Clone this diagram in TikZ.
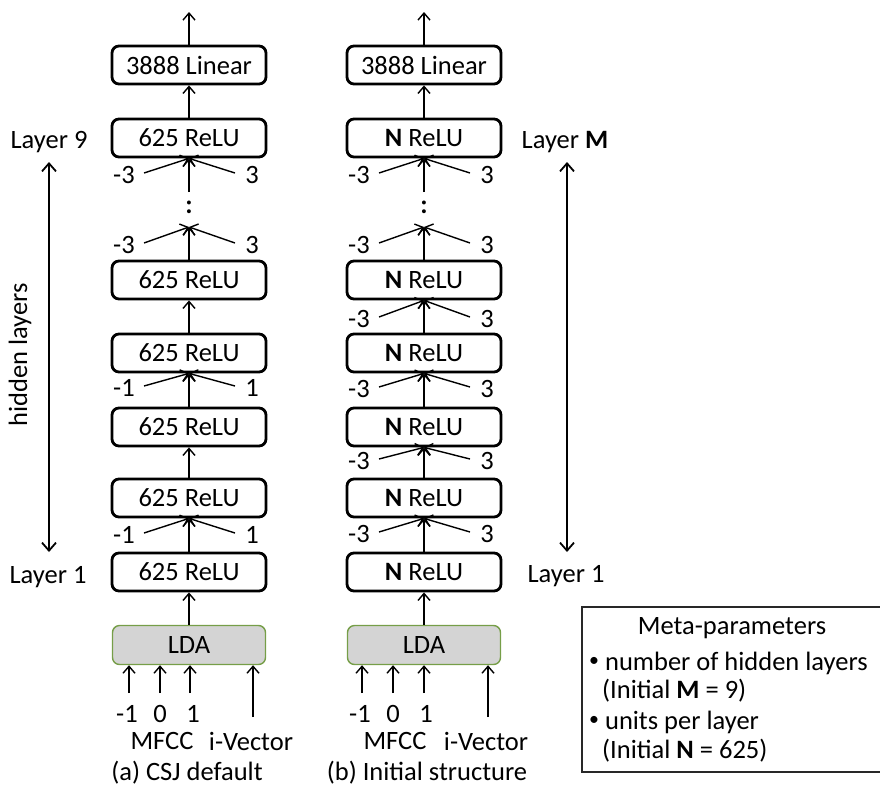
\documentclass[tikz,border=0pt]{standalone}
\usepackage{fontspec}
\setmainfont{Carlito}
\usetikzlibrary{arrows.meta}

\definecolor{ldafill}{RGB}{212,212,212}
\definecolor{ldaedge}{RGB}{118,158,72}
\definecolor{inkgray}{RGB}{40,40,40}

% small list bullet
\newcommand{\smallbullet}{\raisebox{0.12em}{\scalebox{0.75}{\textbullet}}}

% three-way fan of context arrows: two slanted lines plus the (separately drawn) vertical
% #1 name prefix, #2 target, #3 column x, #4 label y, #5 left label, #6 right label
\newcommand{\ctxfan}[6]{%
  \node[lbl] (#1l) at (#3-65,#4) {#5};
  \node[lbl] (#1r) at (#3+63,#4) {#6};
  \coordinate (#1a) at (#3-45,#4-2);
  \coordinate (#1b) at (#3+46,#4-2);
  \draw[conn] (#1a) -- (#2);
  \draw[conn] (#1b) -- (#2);
}

\begin{document}
\begin{tikzpicture}[x=1pt,y=-1pt,
  every node/.style={font=\fontsize{26.5}{31}\selectfont, text=black},
  layerbox/.style={draw=black, line width=2.8pt, rounded corners=7pt,
    minimum width=154pt, minimum height=38pt, inner sep=0pt},
  ldabox/.style={draw=ldaedge, fill=ldafill, line width=1.4pt, rounded corners=7pt,
    minimum width=153pt, minimum height=39pt, inner sep=0pt},
  conn/.style={line width=1.4pt, draw=black, -{Straight Barb[length=7pt,width=12pt,line width=1.4pt]}},
  span/.style={line width=1.8pt, draw=black,
    {Straight Barb[length=8pt,width=14pt,line width=1.8pt]}-{Straight Barb[length=8pt,width=14pt,line width=1.8pt]}},
  lbl/.style={inner sep=0pt},
  metabox/.style={draw=inkgray, line width=1.2pt, inner sep=0pt}
]
\useasboundingbox (0,0) rectangle (880,787);

% ---------------- (a) CSJ default ----------------
\coordinate (a-out) at (189,12);
\node[layerbox] (a-lin) at (189,65) {3888 Linear};
\node[layerbox] (a-h9) at (189,138) {625 ReLU};
\coordinate (a-top) at (189,192);
\node[lbl] (a-dots) at (189,207) {\textbf{:}};
\coordinate (a-tip) at (189,227);
\node[layerbox] (a-h5) at (189,280) {625 ReLU};
\node[layerbox] (a-h4) at (189,353) {625 ReLU};
\node[layerbox] (a-h3) at (189,427) {625 ReLU};
\node[layerbox] (a-h2) at (189,498) {625 ReLU};
\node[layerbox] (a-h1) at (189,572) {625 ReLU};
\node[ldabox] (a-lda) at (189,645) {LDA};

\draw[conn] (a-lin) -- (a-out);
\draw[conn] (a-h9) -- (a-lin);
\draw[conn] (a-top) -- (a-h9.south);
\ctxfan{a-f9}{a-h9.south}{189}{175}{-3}{3}
\draw[conn] (a-h5) -- (a-tip);
\ctxfan{a-f5}{a-tip}{189}{245}{-3}{3}
\draw[conn] (a-h4) -- (a-h5);
\draw[conn] (a-h3) -- (a-h4);
\ctxfan{a-f3}{a-h4.south}{189}{388}{-1}{1}
\draw[conn] (a-h2) -- (a-h3);
\draw[conn] (a-h1) -- (a-h2);
\ctxfan{a-f1}{a-h2.south}{189}{535}{-1}{1}
\draw[conn] (a-lda) -- (a-h1);

\coordinate (a-in1) at (129,693);
\coordinate (a-in2) at (160,693);
\coordinate (a-in3) at (190,693);
\coordinate (a-iv) at (253,717);
\foreach \p in {a-in1,a-in2,a-in3,a-iv}
  \draw[conn] (\p) -- (\p |- a-lda.south);
\node[lbl] (a-m1) at (127,714) {-1};
\node[lbl] (a-m0) at (160,714) {0};
\node[lbl] (a-p1) at (193,714) {1};
\node[lbl] (a-mfcc) at (162,741) {MFCC};
\node[lbl] (a-ivec) at (251,741) {i-Vector};
\node[lbl] (a-cap) at (187,773) {(a) CSJ default};

% ---------------- (b) Initial structure ----------------
\coordinate (b-out) at (424,12);
\node[layerbox] (b-lin) at (424,65) {3888 Linear};
\node[layerbox] (b-hM) at (424,138) {\textbf{N} ReLU};
\coordinate (b-top) at (424,192);
\node[lbl] (b-dots) at (424,207) {\textbf{:}};
\coordinate (b-tip) at (424,227);
\node[layerbox] (b-h5) at (424,280) {\textbf{N} ReLU};
\node[layerbox] (b-h4) at (424,353) {\textbf{N} ReLU};
\node[layerbox] (b-h3) at (424,427) {\textbf{N} ReLU};
\node[layerbox] (b-h2) at (424,498) {\textbf{N} ReLU};
\node[layerbox] (b-h1) at (424,572) {\textbf{N} ReLU};
\node[ldabox] (b-lda) at (424,645) {LDA};

\draw[conn] (b-lin) -- (b-out);
\draw[conn] (b-hM) -- (b-lin);
\draw[conn] (b-top) -- (b-hM.south);
\ctxfan{b-fM}{b-hM.south}{424}{175}{-3}{3}
\draw[conn] (b-h5) -- (b-tip);
\ctxfan{b-f5}{b-tip}{424}{245}{-3}{3}
\draw[conn] (b-h4) -- (b-h5);
\ctxfan{b-f4}{b-h5.south}{424}{319}{-3}{3}
\draw[conn] (b-h3) -- (b-h4);
\ctxfan{b-f3}{b-h4.south}{424}{389}{-3}{3}
\draw[conn] (b-h2) -- (b-h3);
\ctxfan{b-f2}{b-h3.south}{424}{461}{-3}{3}
\draw[conn] (b-h1) -- (b-h2);
\ctxfan{b-f1}{b-h2.south}{424}{534}{-3}{3}
\draw[conn] (b-lda) -- (b-h1);

\coordinate (b-in1) at (362,693);
\coordinate (b-in2) at (393,693);
\coordinate (b-in3) at (424,693);
\coordinate (b-iv) at (488,717);
\foreach \p in {b-in1,b-in2,b-in3,b-iv}
  \draw[conn] (\p) -- (\p |- b-lda.south);
\node[lbl] (b-m1) at (360,714) {-1};
\node[lbl] (b-m0) at (393,714) {0};
\node[lbl] (b-p1) at (426,714) {1};
\node[lbl] (b-mfcc) at (395,741) {MFCC};
\node[lbl] (b-ivec) at (486,741) {i-Vector};
\node[lbl] (b-cap) at (427,773) {(b) Initial structure};

% ---------------- hidden-layer span markers ----------------
\node[lbl] (a-ltop) at (49,142) {Layer 9};
\node[lbl] (a-lbot) at (48,577) {Layer 1};
\coordinate (a-s1) at (49,162);
\coordinate (a-s2) at (49,552);
\draw[span] (a-s1) -- (a-s2);
\node[lbl, rotate=90] (a-hid) at (20,355) {hidden layers};

\node[lbl] (b-ltop) at (565,142) {Layer \textbf{M}};
\node[lbl] (b-lbot) at (566,576) {Layer 1};
\coordinate (b-s1) at (567,162);
\coordinate (b-s2) at (567,552);
\draw[span] (b-s1) -- (b-s2);

% ---------------- meta-parameter legend ----------------
\node[metabox, minimum width=306pt, minimum height=165pt] (meta) at (735,689.5) {};
\node[lbl, anchor=base] (meta-t) at (732,634) {Meta-parameters};
\node[lbl, anchor=base west] (meta-1) at (589,670) {\smallbullet\ number of hidden layers};
\node[lbl, anchor=base west] (meta-2) at (602,698) {(Initial \textbf{M} = 9)};
\node[lbl, anchor=base west] (meta-3) at (589,729) {\smallbullet\ units per layer};
\node[lbl, anchor=base west] (meta-4) at (602,758) {(Initial \textbf{N} = 625)};
\end{tikzpicture}
\end{document}
